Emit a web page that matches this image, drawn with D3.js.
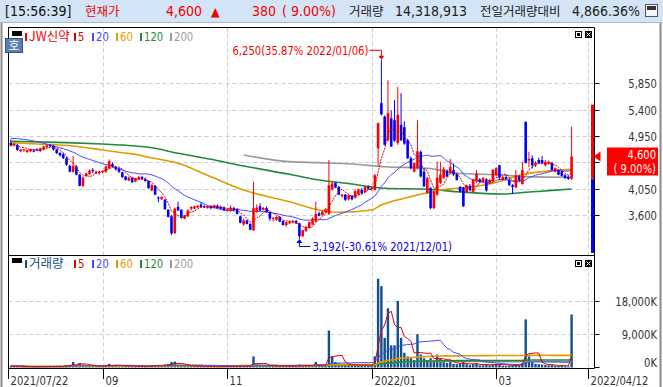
<!DOCTYPE html>
<html>
<head>
<meta charset="utf-8">
<script src="https://cdn.jsdelivr.net/npm/d3@7"></script>
<style>
  body { margin: 0; background: #fff; }
  svg { display: block; }
</style>
</head>
<body>
<svg width="663" height="387"></svg>
<script>
// daily candles [open, high, low, close], 2021/07/22 .. 2022/04/12
const candles = [
  [4830,4890,4770,4790],[4790,4830,4770,4820],[4800,4810,4700,4710],[4690,4730,4670,4720],[4700,4730,4680,4720],
  [4680,4720,4660,4710],[4690,4730,4670,4720],[4700,4730,4670,4700],[4720,4740,4690,4700],[4690,4750,4680,4740],
  [4720,4780,4710,4770],[4760,4800,4740,4790],[4790,4810,4760,4770],[4780,4800,4700,4720],[4720,4730,4640,4660],
  [4660,4680,4600,4620],[4640,4660,4560,4570],[4570,4590,4440,4460],[4440,4460,4330,4340],[4340,4610,4320,4440],
  [4430,4450,4280,4290],[4290,4300,4090,4100],[4100,4260,4080,4240],[4270,4330,4250,4310],[4300,4380,4290,4360],
  [4370,4400,4310,4350],[4310,4360,4300,4340],[4320,4350,4290,4340],[4330,4360,4310,4350],[4340,4450,4320,4430],
  [4400,4550,4390,4520],[4470,4500,4420,4430],[4420,4440,4360,4380],[4390,4400,4320,4340],[4330,4340,4230,4250],
  [4260,4270,4190,4200],[4190,4260,4180,4240],[4240,4250,4150,4160],[4170,4240,4160,4230],[4210,4270,4200,4250],
  [4250,4270,4200,4210],[4220,4240,4170,4180],[4180,4190,4050,4060],[4020,4130,4010,4110],[4100,4110,3940,3950],
  [3900,3920,3820,3890],[3870,3920,3860,3910],[3860,3880,3690,3700],[3690,3700,3560,3570],[3580,3600,3260,3290],
  [3290,3730,3280,3710],[3740,3830,3670,3680],[3690,3700,3540,3550],[3540,3600,3530,3600],[3580,3700,3570,3680],
  [3710,3750,3680,3740],[3710,3760,3700,3750],[3730,3770,3720,3760],[3780,3810,3730,3740],[3750,3770,3720,3730],
  [3720,3760,3710,3750],[3750,3770,3700,3720],[3720,3780,3710,3770],[3760,3780,3710,3720],[3740,3760,3700,3710],
  [3730,3750,3670,3680],[3690,3720,3660,3700],[3670,3770,3660,3730],[3720,3740,3660,3680],[3700,3720,3610,3620],
  [3580,3590,3460,3470],[3440,3540,3420,3510],[3510,3520,3440,3450],[3450,3460,3340,3350],[3340,4170,3330,3720],
  [3660,3780,3640,3730],[3750,3800,3670,3680],[3690,3740,3680,3720],[3720,3750,3640,3650],[3650,3660,3500,3540],
  [3540,3570,3490,3550],[3520,3580,3500,3570],[3570,3580,3480,3490],[3500,3510,3420,3430],[3430,3490,3400,3480],
  [3460,3510,3440,3490],[3480,3520,3460,3500],[3500,3520,3450,3460],[3460,3470,3192,3240],[3240,3350,3220,3340],
  [3330,3420,3310,3400],[3380,3490,3370,3480],[3440,3560,3430,3540],[3490,3830,3480,3620],[3630,3660,3580,3590],
  [3600,3680,3590,3660],[3650,3720,3640,3700],[3620,4540,3600,4110],[4040,4170,4020,4140],[4150,4160,4060,4070],
  [4080,4100,3940,3950],[3920,3960,3900,3950],[3950,3960,3840,3860],[3870,3950,3850,3940],[3930,3940,3850,3870],
  [3900,4040,3880,4010],[3960,4050,3940,4040],[4030,4060,3950,3970],[3990,4100,3980,4080],[4080,4110,4030,4050],
  [4050,4090,4020,4060],[4030,4300,4020,4280],[4740,5180,4450,5170],[5510,6250,5300,5320],[5280,5300,4790,4800],
  [4880,5900,4850,5340],[5250,5390,4760,4770],[5220,5560,4850,4870],[4830,5790,4800,5310],[5140,5680,4860,4880],
  [5100,5200,4800,4820],[4880,4900,4560,4570],[4570,4600,4380,4400],[4340,4500,4330,4490],[4400,5220,4380,4690],
  [4680,4700,4240,4260],[4340,4400,4080,4090],[3980,4250,3960,4230],[4060,4080,3700,3720],[3720,4020,3700,4000],
  [3950,4510,3930,4240],[4150,4510,4130,4290],[4230,4420,4220,4390],[4360,4380,4250,4260],[4320,4560,4300,4420],
  [4370,4480,4270,4290],[4300,4320,4190,4200],[4080,4100,3990,4000],[4070,4080,3740,3750],[3990,4120,3980,4110],
  [4100,4130,4020,4030],[4000,4220,3990,4200],[4170,4370,4150,4310],[4210,4230,4150,4160],[4170,4250,4150,4230],
  [4210,4230,4000,4020],[4140,4220,4130,4200],[4170,4390,4160,4370],[4280,4420,4270,4400],[4450,4460,4200,4240],
  [4200,4270,4190,4250],[4250,4280,4210,4220],[4200,4220,4100,4110],[4110,4130,3960,4080],[4070,4370,4060,4280],
  [4260,4290,4180,4190],[4130,4510,4120,4370],[5190,5200,4480,4490],[4530,4680,4420,4560],[4570,4620,4400,4450],
  [4450,4520,4420,4490],[4540,4580,4470,4480],[4540,4610,4470,4480],[4450,4540,4430,4510],[4480,4530,4460,4510],
  [4490,4510,4360,4370],[4340,4410,4330,4400],[4370,4380,4280,4290],[4340,4360,4260,4270],[4280,4300,4220,4230],
  [4250,4280,4200,4220],[4220,5110,4200,4600]
];

// daily volume, thousand shares
const volumes = [
  420,300,380,250,200,180,220,190,200,260,
  300,280,250,320,350,300,380,600,700,1500,
  700,1200,800,500,400,350,300,280,300,700,
  1000,500,400,350,450,400,350,380,300,280,
  260,300,600,500,600,700,400,800,900,1500,
  1600,700,600,400,500,350,300,280,320,250,
  230,220,260,240,220,300,250,350,280,400,
  600,450,350,500,3000,900,600,400,450,500,
  350,300,350,400,350,300,280,350,800,500,
  450,500,550,1500,600,500,450,10000,3000,1500,
  1200,700,800,600,500,900,700,600,800,500,
  450,3000,24000,22000,8000,16000,6000,6000,18000,8000,
  4000,3000,2500,2000,9000,3500,2500,2000,2500,1500,
  3500,2500,1800,1200,1500,1000,900,1000,1500,900,
  700,900,1200,600,600,800,600,900,1000,900,
  500,450,500,600,900,500,1200,13000,3000,1500,
  1000,900,800,700,600,700,500,450,400,350,
  290,14319
];

// long moving averages (history before the window is not shown)
const ma20Head = [[0,4910],[4,4893],[8,4853],[13,4779]];
const ma60Pts = [[0,4836],[8,4813],[19,4779],[28,4711],[34,4665],[39,4626],[42,4586],[51,4484],[61,4255],
  [71,4028],[85,3829],[94,3687],[100,3648],[110,3687],[113,3772],[120,3887],[127,3982],[131,4028],
  [136,4057],[147,4143],[152,4228],[157,4301],[162,4341],[171,4381]];
const ma120Pts = [[0,4860],[17,4836],[28,4813],[34,4796],[38,4779],[42,4757],[51,4655],[61,4552],
  [71,4438],[85,4296],[94,4199],[104,4131],[114,4057],[127,4040],[136,3999],[150,3960],[157,3989],
  [164,4017],[171,4045]];
const ma200Pts = [[71,4626],[85,4512],[94,4495],[104,4472],[114,4426],[127,4399],[136,4313],
  [150,4284],[157,4256],[171,4245]];

const priceTicks = [3600, 4050, 4500, 4950, 5400, 5850];
const volTicks = [0, 9000, 18000];
const dateTicks = [[0, "2021/07/22"], [28, "09"], [66, "11"], [110, "2022/01"], [148, "03"], [176, "2022/04/12"]];
const maColors = { 5: "#e00000", 20: "#4646ff", 60: "#e39a00", 120: "#1f8a3a", 200: "#9a9a9a" };
const stockName = "JW신약";
const prevClose = 4220, upperLimit = 5485, lowerLimit = 2955;
const todayVolume = "14,318,913", volRatio = "4,866.36%", clock = "15:56:39";
const hiDate = "2022/01/06", loDate = "2021/12/01";

const NUM = "'DejaVu Sans Condensed', 'DejaVu Sans', sans-serif";
const KR = "'Noto Sans CJK KR', sans-serif";

const svg = d3.select("svg");
const L = 8.5, R = 594.5, pTop = 27.5, sep = 255.5, vBot = 368.5;

const x = d3.scaleLinear().domain([0, 171]).range([10.8, 571.6]);
const y = d3.scaleLinear().domain([2950, 6760]).range([253.2, 29.9]);
const yv = d3.scaleLinear().domain([0, 30000]).range([367.5, 256.5]);
const fmt = d3.format(",");

const closes = candles.map(d => d[3]);
const last = closes[closes.length - 1];
const pct = v => ((v - last) / last * 100).toFixed(2);
const sma = (arr, n, from) => arr.map((_, i) => i < from ? null : [i, d3.mean(arr.slice(Math.max(0, i - n + 1), i + 1))]).filter(d => d);

// narrow number text, squeezed horizontally like the terminal's bitmap font
function label(parent, tx, ty, s, o = {}) {
  const kr = /[가-힣]/.test(s);
  return parent.append("text")
    .attr("transform", `translate(${tx},${ty}) scale(${o.sx ?? (kr ? 1 : 0.86)},1)`)
    .attr("text-anchor", o.anchor || "start")
    .attr("font-family", kr ? KR : NUM)
    .attr("font-size", o.size || (kr ? 12.5 : 13))
    .attr("fill", o.fill || "#333")
    .text(s);
}

// title bar
svg.append("rect").attr("x", 0).attr("y", 0).attr("width", 663).attr("height", 22).attr("fill", "#d2e4f5");
svg.append("line").attr("x1", 0).attr("x2", 663).attr("y1", 22.5).attr("y2", 22.5).attr("stroke", "#aab8c8");
const chg = last - prevClose;
[
  [5, `[${clock}]`, "#111"],
  [85, "현재가", "#f00000"],
  [166, fmt(last), "#f00000"],
  [211, "▲", "#f00000"],
  [252, fmt(chg), "#f00000"],
  [282, `( ${(chg / prevClose * 100).toFixed(2)}%)`, "#f00000"],
  [349, "거래량", "#222"],
  [395, todayVolume, "#222"],
  [480, "전일거래량대비", "#222"],
  [572, volRatio, "#222"]
].forEach(([tx, t, c]) => label(svg, tx, 16, t, { fill: c, size: /[가-힣▲]/.test(t) ? 12.5 : 14, sx: 1 }));
svg.append("rect").attr("x", 645.5).attr("y", 4.5).attr("width", 12).attr("height", 12).attr("fill", "#f4f4f4").attr("stroke", "#555");
svg.append("rect").attr("x", 647).attr("y", 6).attr("width", 9).attr("height", 4).attr("fill", "#333");

// outer frame
svg.append("line").attr("x1", 1.5).attr("x2", 1.5).attr("y1", 23).attr("y2", 387).attr("stroke", "#8a8a8a").attr("stroke-width", 2);
svg.append("line").attr("x1", 660.5).attr("x2", 660.5).attr("y1", 23).attr("y2", 387).attr("stroke", "#8a8a8a").attr("stroke-width", 2);

// grid
const grid = svg.append("g").attr("stroke", "#cdcdcd").attr("stroke-dasharray", "4,3");
const snap = v => Math.round(v) + 0.5;
priceTicks.forEach(v => grid.append("line").attr("x1", L).attr("x2", R).attr("y1", snap(y(v))).attr("y2", snap(y(v))));
volTicks.slice(1).forEach(v => grid.append("line").attr("x1", L).attr("x2", R).attr("y1", snap(yv(v))).attr("y2", snap(yv(v))));
dateTicks.slice(1).forEach(([i]) => grid.append("line").attr("x1", snap(x(i))).attr("x2", snap(x(i))).attr("y1", pTop).attr("y2", vBot));

// clip regions
const defs = svg.append("defs");
defs.append("clipPath").attr("id", "cp").append("rect").attr("x", L).attr("y", pTop).attr("width", R - L).attr("height", sep - pTop);
defs.append("clipPath").attr("id", "cv").append("rect").attr("x", L).attr("y", sep).attr("width", R - L).attr("height", vBot - sep);
const gp = svg.append("g").attr("clip-path", "url(#cp)");
const gv = svg.append("g").attr("clip-path", "url(#cv)");

// moving averages (price)
const line = d3.line().x(d => x(d[0])).y(d => y(d[1]));
const ma20 = ma20Head.concat(sma(closes, 20, 19));
[[ma200Pts, 200], [ma120Pts, 120], [ma60Pts, 60], [ma20, 20]].forEach(([pts, n]) => {
  gp.append("path").attr("d", line.curve(d3.curveMonotoneX)(pts)).attr("fill", "none")
    .attr("stroke", maColors[n]).attr("stroke-width", n >= 60 ? 1.6 : 1);
});

// candles
candles.forEach(([o, h, l, c], i) => {
  const up = c > o || (c === o && i > 0 && c >= closes[i - 1]);
  const col = up ? "#ff0000" : "#0000ff";
  const cx = x(i);
  gp.append("line").attr("x1", cx).attr("x2", cx).attr("y1", y(h)).attr("y2", y(l)).attr("stroke", col).attr("stroke-width", 1);
  const top = y(Math.max(o, c)), bot = y(Math.min(o, c));
  gp.append("rect").attr("x", cx - 1.3).attr("y", top).attr("width", 2.6).attr("height", Math.max(1, bot - top)).attr("fill", col);
});
gp.append("path").attr("d", line.curve(d3.curveLinear)(sma(closes, 5, 0))).attr("fill", "none")
  .attr("stroke", "#c80000").attr("stroke-width", 1).attr("stroke-dasharray", "2,1");

// volume bars and averages
volumes.forEach((v, i) => {
  gv.append("rect").attr("x", x(i) - 1.2).attr("y", yv(v)).attr("width", 2.4).attr("height", yv(0) - yv(v)).attr("fill", "#12508e");
});
const vline = d3.line().x(d => x(d[0])).y(d => yv(d[1]));
[[200, 71], [120, 0], [60, 0], [20, 0], [5, 0]].forEach(([n, from]) => {
  gv.append("path").attr("d", vline(sma(volumes, n, from))).attr("fill", "none")
    .attr("stroke", maColors[n]).attr("stroke-width", n >= 60 ? 1.6 : 1);
});

// panel frame
const frame = svg.append("g").attr("stroke", "#000").attr("stroke-width", 1);
frame.append("line").attr("x1", L).attr("x2", R).attr("y1", pTop).attr("y2", pTop);
frame.append("line").attr("x1", L).attr("x2", R).attr("y1", sep).attr("y2", sep);
frame.append("line").attr("x1", L).attr("x2", R).attr("y1", vBot).attr("y2", vBot);
frame.append("line").attr("x1", L).attr("x2", L).attr("y1", pTop).attr("y2", 379);
frame.append("line").attr("x1", R).attr("x2", R).attr("y1", pTop).attr("y2", vBot);

// price limit bar: prev close to upper / lower limit
svg.append("rect").attr("x", 591).attr("y", y(upperLimit)).attr("width", 3).attr("height", y(prevClose) - y(upperLimit)).attr("fill", "#ff0000");
svg.append("rect").attr("x", 591).attr("y", y(prevClose)).attr("width", 3).attr("height", y(lowerLimit) - y(prevClose)).attr("fill", "#0000ff");
svg.append("rect").attr("x", 591).attr("y", y(prevClose) - 0.5).attr("width", 3).attr("height", 1).attr("fill", "#2a9a40");

// right axes
const ly = y(last);
priceTicks.forEach(v => {
  svg.append("line").attr("x1", R).attr("x2", R + 5).attr("y1", snap(y(v))).attr("y2", snap(y(v))).attr("stroke", "#000");
  if (Math.abs(y(v) - ly - 5) > 16) label(svg, 657, y(v) + 5, fmt(v), { anchor: "end" });
});
volTicks.forEach(v => {
  const ty = Math.min(Math.round(yv(v)), 367) + 0.5;
  svg.append("line").attr("x1", R).attr("x2", R + 5).attr("y1", ty).attr("y2", ty).attr("stroke", "#000");
  label(svg, 657, Math.min(yv(v) + 5, 367), fmt(v) + "K", { anchor: "end" });
});

// current price flag
svg.append("path").attr("d", `M${R - 1},${ly} L${R + 6},${ly - 5} L${R + 6},${ly + 5} Z`).attr("fill", "#ff0000");
svg.append("rect").attr("x", 607).attr("y", ly - 9).attr("width", 51).attr("height", 28).attr("fill", "#ff0000");
label(svg, 656, ly + 3, fmt(last), { anchor: "end", fill: "#fff", size: 11.5, sx: 0.96 });
label(svg, 656, ly + 16.5, `( ${(chg / prevClose * 100).toFixed(2)}%)`, { anchor: "end", fill: "#fff", size: 11.5, sx: 0.96 });

// date axis
dateTicks.forEach(([i, t]) => {
  const tx = i === 0 ? L : snap(x(i));
  svg.append("line").attr("x1", tx).attr("x2", tx).attr("y1", vBot).attr("y2", 379).attr("stroke", "#000");
  label(svg, tx + 2, 385, t);
});

// high / low markers
const hiI = d3.maxIndex(candles, d => d[1]), loI = d3.minIndex(candles, d => d[2]);
const hi = candles[hiI][1], lo = candles[loI][2];
const hx = x(hiI), hy = y(hi);
svg.append("path").attr("d", `M${hx - 12},${hy - 9.5} H${hx} V${hy - 3}`).attr("fill", "none").attr("stroke", "#f00000");
svg.append("path").attr("d", `M${hx - 3},${hy - 4} L${hx + 3},${hy - 4} L${hx},${hy} Z`).attr("fill", "#f00000");
label(svg, hx - 13, hy - 5, `${fmt(hi)}(${pct(hi)}% ${hiDate})`, { anchor: "end", fill: "#f00000" });
const lx = x(loI), lyy = y(lo);
svg.append("path").attr("d", `M${lx},${lyy + 3} V${lyy + 7.5} H${lx + 11}`).attr("fill", "none").attr("stroke", "#0000e0");
svg.append("path").attr("d", `M${lx - 3},${lyy + 4} L${lx + 3},${lyy + 4} L${lx},${lyy} Z`).attr("fill", "#0000e0");
label(svg, lx + 13, lyy + 12, `${fmt(lo)}(${pct(lo)}% ${loDate})`, { fill: "#0000e0" });

// legends
function legend(gy, items) {
  svg.append("rect").attr("x", 12).attr("y", gy - 9).attr("width", 10).attr("height", 5).attr("fill", "#000");
  items.forEach(([gx, t, c]) => {
    svg.append("rect").attr("x", gx).attr("y", gy - 7).attr("width", 2).attr("height", 8).attr("fill", c);
    label(svg, gx + 4, gy + 1, t, { fill: c });
  });
}
const maItems = [[74, "5", maColors[5]], [92, "20", maColors[20]], [116, "60", maColors[60]], [140, "120", maColors[120]], [170, "200", maColors[200]]];
legend(40, [[25, stockName, "#f00000"]].concat(maItems));
legend(267, [[25, "거래량", "#12508e"]].concat(maItems));

// "호" button
svg.append("rect").attr("x", 5.5).attr("y", 38.5).attr("width", 17).attr("height", 14).attr("fill", "#5b7fae").attr("stroke", "#3a5680");
label(svg, 14, 50, "호", { anchor: "middle", fill: "#fff", size: 12 });

// panel buttons
[31, 260].forEach(by => {
  svg.append("rect").attr("x", 575.5).attr("y", by + 0.5).attr("width", 6).attr("height", 6).attr("fill", "#fff").attr("stroke", "#000");
  svg.append("rect").attr("x", 577).attr("y", by + 2).attr("width", 3).attr("height", 3).attr("fill", "#000");
  svg.append("rect").attr("x", 585).attr("y", by).attr("width", 7).attr("height", 7).attr("fill", "#000");
  svg.append("path").attr("d", `M586.5,${by + 1.5} L590.5,${by + 5.5} M590.5,${by + 1.5} L586.5,${by + 5.5}`).attr("stroke", "#fff");
});
</script>
</body>
</html>
